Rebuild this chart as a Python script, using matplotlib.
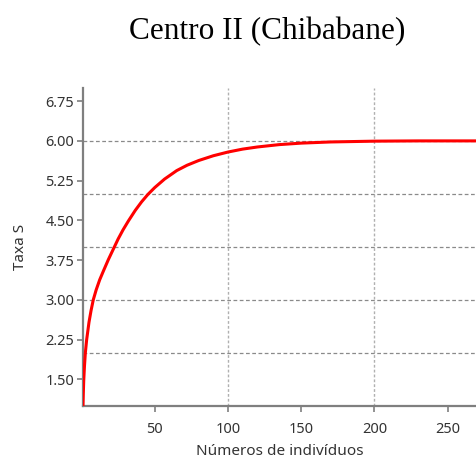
import matplotlib
matplotlib.use("Agg")
import matplotlib.pyplot as plt

# curve
n_ind = [1, 1.2, 1.5, 2, 2.6, 3.5, 5.1, 6.5, 8, 10, 12.4, 15, 18.3, 21.9, 25,
         28.3, 32, 36.7, 41, 45.3, 50, 56.7, 65, 72, 80, 90, 100, 110, 120,
         135, 150, 170, 200, 230, 270]
taxa_s = [1.0, 1.22, 1.48, 1.75, 2.0, 2.25, 2.58, 2.8, 3.0, 3.19, 3.38, 3.55,
          3.76, 3.97, 4.15, 4.32, 4.49, 4.69, 4.85, 4.99, 5.12, 5.28, 5.44,
          5.54, 5.63, 5.72, 5.79, 5.845, 5.885, 5.93, 5.958, 5.98, 5.995,
          6.0, 6.0]

y_ticks = [1.50, 2.25, 3.00, 3.75, 4.50, 5.25, 6.00, 6.75]
x_ticks = [50, 100, 150, 200, 250]
h_grid = [2, 3, 4, 5, 6]
v_grid = [100, 200]

fig = plt.figure(figsize=(4.77, 4.65), dpi=100)
ax = fig.add_axes([0.174, 0.127, 0.826, 0.684])

for g in h_grid:
    ax.axhline(g, color='#8a8a8a', lw=0.9, ls=(0, (3, 2)), zorder=1)
for g in v_grid:
    ax.axvline(g, color='#b0b0b0', lw=1.0, ls=(0, (2, 1.5)), zorder=1)

ax.plot(n_ind, taxa_s, color='#ff0000', lw=2.2, zorder=3)

ax.set_xlim(1, 270)
ax.set_ylim(1, 7)
ax.set_xticks(x_ticks)
ax.set_yticks(y_ticks)
ax.set_yticklabels(['%.2f' % v for v in y_ticks])

for s in ['top', 'right']:
    ax.spines[s].set_visible(False)
for s in ['left', 'bottom']:
    ax.spines[s].set_color('#7f7f7f')
    ax.spines[s].set_linewidth(1.6)

ax.tick_params(axis='both', colors='#7f7f7f', labelcolor='#333333',
               length=4.5, width=1.2, labelsize=10.5)
ax.tick_params(axis='x', pad=7)
ax.tick_params(axis='y', pad=2)
for lab in ax.get_xticklabels() + ax.get_yticklabels():
    lab.set_family('Noto Sans')

ax.set_xlabel('Números de indivíduos', family='Noto Sans', fontsize=11,
              color='#333333', labelpad=5)
ax.set_ylabel('Taxa S', family='Noto Sans', fontsize=11, color='#333333',
              labelpad=12)

fig.text(0.561, 0.932, 'Centro II (Chibabane)', ha='center', va='center',
         family='Liberation Serif', fontsize=22.5)

fig.savefig('out.png', dpi=100)
